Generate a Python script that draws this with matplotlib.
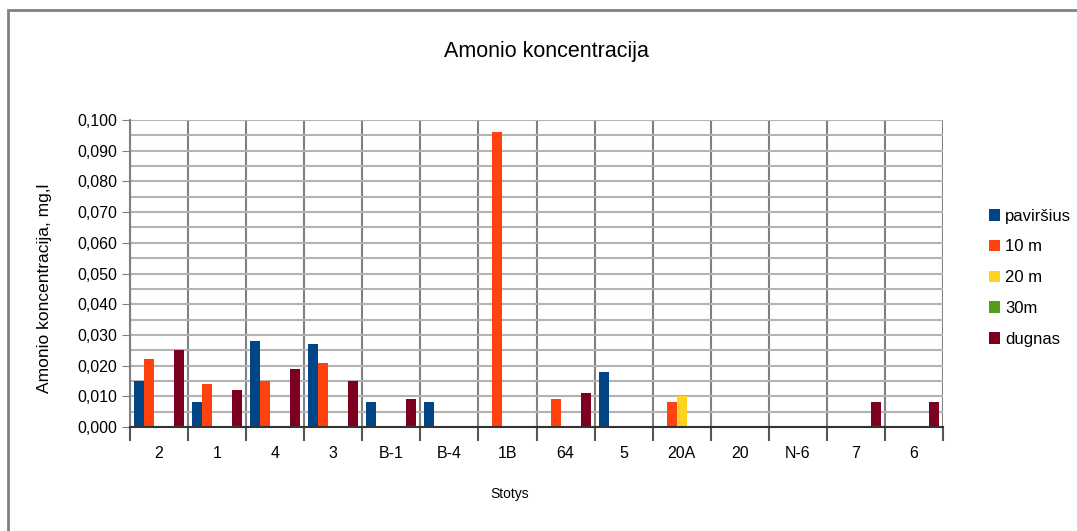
import numpy as np
import matplotlib
matplotlib.use('Agg')
import matplotlib.pyplot as plt
from matplotlib.patches import Rectangle
from matplotlib.ticker import MultipleLocator, FuncFormatter

plt.rcParams['font.family'] = ['Liberation Sans', 'DejaVu Sans']

# data
stations = ['2', '1', '4', '3', 'B-1', 'B-4', '1B', '64', '5', '20A', '20', 'N-6', '7', '6']
pavirsius = [0.015, 0.008, 0.028, 0.027, 0.008, 0.008, 0, 0, 0.018, 0, 0, 0, 0, 0]
m10 = [0.022, 0.014, 0.015, 0.021, 0, 0, 0.096, 0.009, 0, 0.008, 0, 0, 0, 0]
m20 = [0, 0, 0, 0, 0, 0, 0, 0, 0, 0.010, 0, 0, 0, 0]
m30 = [0, 0, 0, 0, 0, 0, 0, 0, 0, 0, 0, 0, 0, 0]
dugnas = [0.025, 0.012, 0.019, 0.015, 0.009, 0, 0, 0.011, 0, 0, 0, 0, 0.008, 0.008]
series_names = ['paviršius', '10 m', '20 m', '30m', 'dugnas']
colors = ['#004586', '#ff420e', '#ffd320', '#579d1c', '#7e0021']

fig = plt.figure(figsize=(10.77, 5.31), dpi=100)
ax = fig.add_axes([130/1077, 1 - 427/531, 813/1077, 307/531])

x = np.arange(len(stations))
w = 0.172
series = [pavirsius, m10, m20, m30, dugnas]
for i, (vals, c) in enumerate(zip(series, colors)):
    ax.bar(x + (i - 2) * w, vals, width=w, color=c, label=series_names[i], zorder=3)

ax.set_xlim(-0.5, len(stations) - 0.5)
ax.set_ylim(0, 0.1)

# grid
ax.yaxis.set_major_locator(MultipleLocator(0.01))
ax.yaxis.set_minor_locator(MultipleLocator(0.005))
ax.yaxis.set_major_formatter(FuncFormatter(lambda v, p: f'{v:.3f}'.replace('.', ',')))
ax.grid(which='both', axis='y', color='#b3b3b3', linewidth=1.5, zorder=0)
ax.tick_params(axis='y', which='minor', length=0)
ax.tick_params(axis='y', which='major', length=6, color='#808080', labelsize=11.5, pad=3)

ax.set_xticks(np.arange(len(stations) + 1) - 0.5)
ax.set_xticks(x, minor=True)
ax.set_xticklabels([])
ax.set_xticklabels(stations, minor=True)
ax.tick_params(axis='x', which='major', length=10, width=1.5, color='#555555', direction='out')
ax.tick_params(axis='x', which='minor', length=0, labelsize=11.5, pad=14)
ax.grid(which='major', axis='x', color='#808080', linewidth=1.5, zorder=1)

for s in ['top', 'right']:
    ax.spines[s].set_visible(False)
ax.spines['left'].set_color('#808080')
ax.spines['left'].set_linewidth(1.5)
ax.spines['bottom'].set_color('#333333')
ax.spines['bottom'].set_linewidth(1.5)
ax.spines['bottom'].set_zorder(4)

ax.set_ylabel('Amonio koncentracija, mg,l', fontsize=12.5)
ax.yaxis.set_label_coords(-78/813, (427 - 288) / 307)
fig.text(510/1077, 1 - 494/531, 'Stotys', fontsize=10, ha='center', va='center')
fig.text(546/1077, 1 - 52/531, 'Amonio koncentracija', fontsize=15.5, ha='center', va='center')

leg = fig.legend(loc='upper left', bbox_to_anchor=(982/1077, 1 - 202/531),
                 frameon=False, fontsize=12, handlelength=0.7, handleheight=0.7,
                 handletextpad=0.3, labelspacing=0.95, borderaxespad=0)

# outer frame
fig.patches.append(Rectangle((8/1077, -0.05), 1.1, 1 - 10/531 + 0.05,
                             transform=fig.transFigure, fill=False,
                             edgecolor='#808080', linewidth=2))

fig.savefig('out.png', dpi=100)
